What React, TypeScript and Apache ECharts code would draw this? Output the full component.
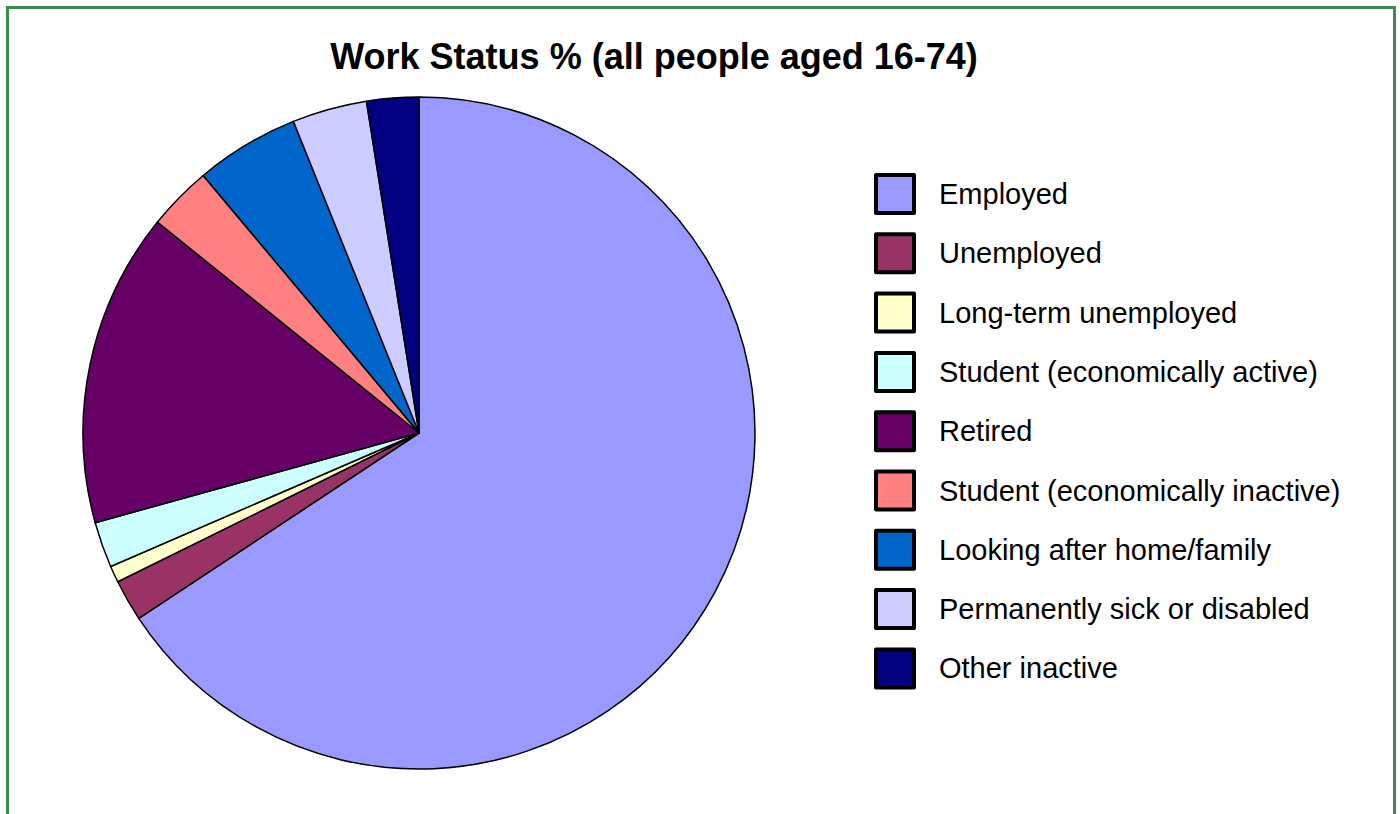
import React, { useEffect, useRef } from "react";
import * as echarts from "echarts";

const categories = [
  "Employed",
  "Unemployed",
  "Long-term unemployed",
  "Student (economically active)",
  "Retired",
  "Student (economically inactive)",
  "Looking after home/family",
  "Permanently sick or disabled",
  "Other inactive",
];
const values = [65.7, 2.0, 0.8, 2.2, 15.1, 3.1, 5.0, 3.6, 2.5];
const colors = [
  "#9999FF",
  "#993366",
  "#FFFFCC",
  "#CCFFFF",
  "#660066",
  "#FF8080",
  "#0066CC",
  "#CCCCFF",
  "#000080",
];
const titleText = "Work Status % (all people aged 16-74)";

export default function App() {
  const ref = useRef<HTMLDivElement>(null);
  useEffect(() => {
    document.body.style.margin = "0";
    const chart = echarts.init(ref.current!, null, { renderer: "svg" });
    chart.setOption({
      animation: false,
      backgroundColor: "#ffffff",
      title: {
        text: titleText,
        left: 654,
        textAlign: "center",
        top: 38,
        padding: 0,
        textStyle: {
          fontFamily: "Liberation Sans, Arial, sans-serif",
          fontWeight: "bold",
          fontSize: 36,
          color: "#000",
        },
      },
      legend: {
        orient: "vertical",
        left: 874,
        top: 173,
        padding: 0,
        itemWidth: 38,
        itemHeight: 38,
        itemGap: 17.3,
        icon: "rect",
        data: categories,
        itemStyle: { borderColor: "#000", borderWidth: 4 },
        textStyle: {
          fontFamily: "Liberation Sans, Arial, sans-serif",
          fontSize: 29,
          lineHeight: 30,
          color: "#000",
          padding: [0, 0, 0, 20],
        },
        selectedMode: false,
      },
      graphic: [
        {
          type: "rect",
          shape: { x: 7.5, y: 7.5, width: 1387, height: 840 },
          style: { fill: "none", stroke: "#3d8b4a", lineWidth: 3 },
          silent: true,
        },
      ],
      series: [
        {
          type: "pie",
          center: [419, 433],
          radius: 336,
          startAngle: 90,
          clockwise: true,
          label: { show: false },
          labelLine: { show: false },
          emphasis: { disabled: true },
          itemStyle: { borderColor: "#000", borderWidth: 1.5 },
          data: categories.map((name, i) => ({
            name,
            value: values[i],
            itemStyle: { color: colors[i] },
          })),
        },
      ],
    });
    return () => chart.dispose();
  }, []);
  return <div ref={ref} style={{ width: 1400, height: 814 }} />;
}
